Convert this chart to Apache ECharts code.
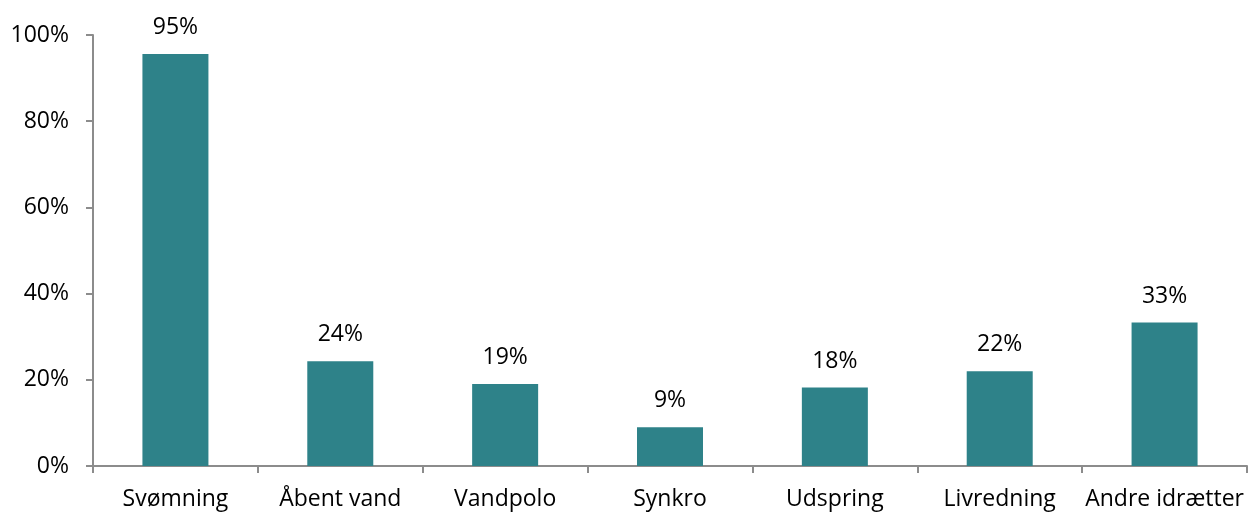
<!DOCTYPE html>
<html>
<head>
<meta charset="utf-8">
<script src="https://cdn.jsdelivr.net/npm/echarts@6/dist/echarts.min.js"></script>
<style>
  html, body { margin: 0; padding: 0; background: #fff; }
  #chart { width: 1249px; height: 513px; }
</style>
</head>
<body>
<div id="chart"></div>
<script>
var categories = ['Svømning', 'Åbent vand', 'Vandpolo', 'Synkro', 'Udspring', 'Livredning', 'Andre idrætter'];
var values = [95.6, 24.3, 19.0, 9.0, 18.2, 22.0, 33.3];
var yTicks = [0, 20, 40, 60, 80, 100];

var font = '"Open Sans", "Liberation Sans", sans-serif';
var myChart = echarts.init(document.getElementById('chart'));

var option = {
  animation: false,
  grid: { left: 93, right: 2, top: 35, bottom: 47, containLabel: false },
  xAxis: {
    type: 'category',
    data: categories,
    axisLine: { lineStyle: { color: '#8c8c8c', width: 2 } },
    axisTick: { show: true, length: 7, inside: false, lineStyle: { color: '#8c8c8c', width: 2 } },
    axisLabel: { color: '#000', fontSize: 23, fontFamily: font, margin: 22, interval: 0 }
  },
  yAxis: {
    type: 'value',
    min: yTicks[0],
    max: yTicks[yTicks.length - 1],
    interval: 20,
    splitLine: { show: false },
    axisLine: { show: true, lineStyle: { color: '#8c8c8c', width: 2 } },
    axisTick: { show: true, length: 7, lineStyle: { color: '#8c8c8c', width: 2 } },
    axisLabel: { color: '#000', fontSize: 23, fontFamily: font, margin: 24, formatter: '{value}%' }
  },
  series: [{
    type: 'bar',
    data: values,
    barWidth: 66,
    itemStyle: { color: '#2e8289' },
    label: {
      show: true,
      position: 'top',
      distance: 15,
      color: '#000',
      fontSize: 23,
      fontFamily: font,
      formatter: function (p) { return Math.floor(p.value) + '%'; }
    }
  }]
};
myChart.setOption(option);
</script>
</body>
</html>
